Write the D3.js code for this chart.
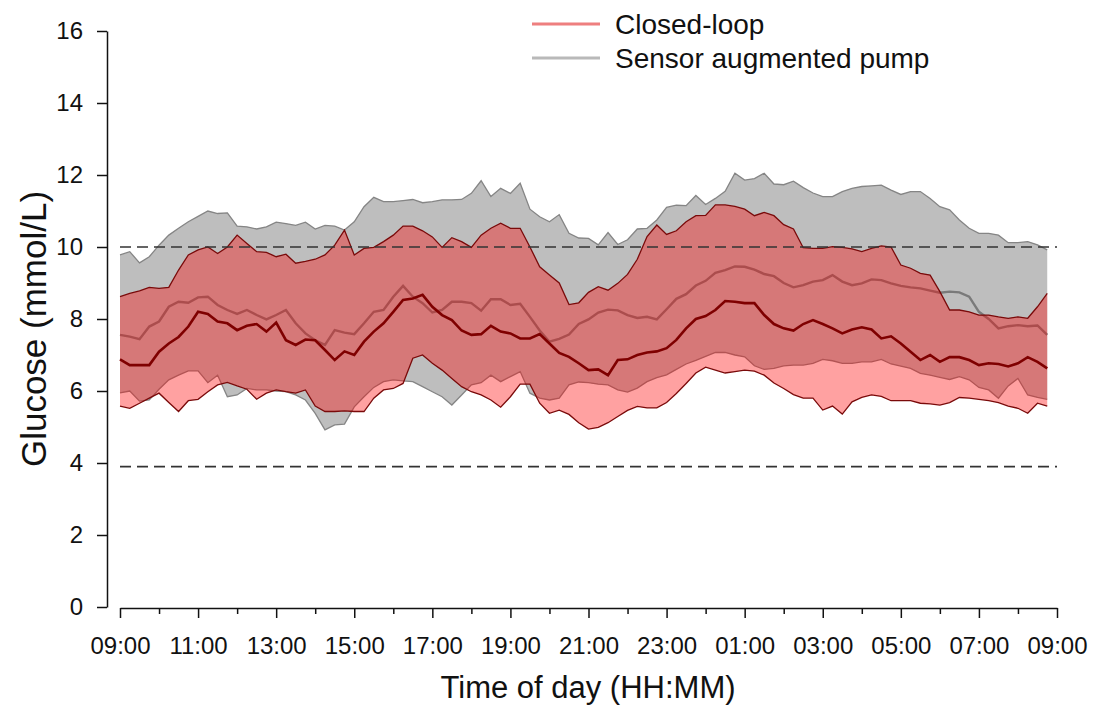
<!DOCTYPE html>
<html><head><meta charset="utf-8">
<script src="https://cdn.jsdelivr.net/npm/d3@7"></script>
<style>
body{margin:0;background:#fff;}
svg{display:block;font-family:"Liberation Sans",Arial,Helvetica,sans-serif;}
</style>
</head><body>
<svg id="c" width="1102" height="708"></svg>
<script>
// 15-minute samples from 09:00 to 08:45 next day (96 points)
const clMedian = [
6.88,6.72,6.72,6.72,7.09,7.32,7.5,7.79,8.2,8.14,
7.93,7.88,7.69,7.81,7.86,7.65,7.9,7.41,7.28,7.43,
7.41,7.14,6.86,7.1,7.0,7.37,7.65,7.88,8.2,8.53,
8.57,8.67,8.34,8.11,7.97,7.68,7.56,7.58,7.81,7.65,
7.6,7.46,7.46,7.58,7.32,7.06,6.95,6.77,6.58,6.6,
6.44,6.86,6.88,7.0,7.07,7.1,7.19,7.42,7.74,8.0,
8.08,8.25,8.5,8.48,8.44,8.44,8.11,7.86,7.74,7.68,
7.86,7.97,7.86,7.74,7.6,7.71,7.77,7.71,7.46,7.52,
7.32,7.09,6.86,7.0,6.81,6.94,6.94,6.86,6.72,6.77,
6.75,6.68,6.77,6.94,6.81,6.63];
const clUpper = [
8.62,8.71,8.78,8.88,8.85,8.88,9.36,9.78,9.92,10.0,
9.82,10.0,10.33,10.1,9.87,9.85,9.73,9.8,9.55,9.6,
9.66,9.78,10.05,10.47,9.78,9.96,9.99,10.15,10.33,10.58,
10.58,10.45,10.28,9.99,10.26,10.15,9.99,10.33,10.52,10.66,
10.52,10.52,10.0,9.45,9.22,9.0,8.4,8.45,8.74,8.9,
8.8,8.99,9.24,9.66,10.29,10.61,10.35,10.45,10.7,10.87,
10.88,11.17,11.17,11.13,11.05,10.87,10.96,10.87,10.62,10.5,
9.98,9.96,9.96,10.01,9.99,9.95,9.87,9.96,10.03,10.0,
9.5,9.41,9.27,9.22,8.76,8.25,8.25,8.2,8.11,8.11,
8.06,8.02,8.06,8.02,8.34,8.71];
const clLower = [
5.58,5.52,5.66,5.8,5.94,5.68,5.43,5.73,5.77,5.98,
6.17,6.24,6.14,6.05,5.77,5.94,6.03,5.98,5.94,6.03,
5.58,5.43,5.43,5.45,5.43,5.43,5.8,6.03,6.07,6.21,
6.91,7.0,6.77,6.58,6.35,6.12,5.98,5.89,5.75,5.55,
5.84,6.19,6.19,5.66,5.38,5.47,5.35,5.12,4.94,4.99,
5.12,5.29,5.46,5.57,5.53,5.53,5.68,5.93,6.21,6.5,
6.66,6.58,6.5,6.54,6.58,6.55,6.44,6.22,6.07,5.9,
5.8,5.8,5.47,5.58,5.36,5.7,5.82,5.89,5.85,5.73,
5.73,5.73,5.66,5.64,5.61,5.68,5.82,5.8,5.77,5.73,
5.68,5.58,5.52,5.38,5.66,5.58];
const sapMedian = [
7.56,7.51,7.44,7.79,7.93,8.34,8.48,8.45,8.6,8.62,
8.39,8.25,8.14,8.25,8.11,7.99,8.11,8.25,7.88,7.6,
7.41,7.28,7.69,7.62,7.58,7.88,8.2,8.25,8.62,8.92,
8.62,8.44,8.18,8.25,8.48,8.48,8.44,8.23,8.55,8.55,
8.39,8.42,8.06,7.68,7.37,7.45,7.57,7.86,7.99,8.18,
8.26,8.24,8.11,8.03,8.06,7.99,8.27,8.56,8.69,8.93,
9.06,9.28,9.36,9.46,9.45,9.37,9.25,9.19,9.0,8.88,
8.94,9.04,9.08,9.22,9.04,8.94,8.99,9.1,9.08,8.99,
8.92,8.88,8.85,8.79,8.73,8.76,8.74,8.62,8.2,8.0,
7.74,7.8,7.83,7.8,7.82,7.56];
const sapUpper = [
9.78,9.87,9.56,9.73,10.05,10.33,10.52,10.7,10.85,11.0,
10.93,10.95,10.58,10.56,10.5,10.56,10.69,10.65,10.6,10.69,
10.5,10.6,10.58,10.47,10.7,11.12,11.38,11.26,11.26,11.29,
11.32,11.23,11.26,11.31,11.31,11.32,11.49,11.84,11.4,11.63,
11.49,11.77,11.05,10.84,10.7,10.9,10.38,10.25,10.24,10.06,
10.4,10.07,10.2,10.5,10.52,10.75,11.1,11.16,11.15,11.43,
11.18,11.35,11.55,12.05,11.86,11.9,12.05,11.75,11.73,11.83,
11.65,11.5,11.4,11.4,11.54,11.63,11.68,11.7,11.72,11.58,
11.46,11.54,11.54,11.35,11.12,11.03,10.75,10.52,10.38,10.38,
10.33,10.12,10.12,10.15,10.06,9.92];
const sapLower = [
5.95,6.0,5.72,5.75,6.05,6.31,6.44,6.56,6.56,6.23,
6.44,5.84,5.89,6.07,6.03,6.03,6.0,5.98,5.89,5.75,
5.38,4.92,5.06,5.08,5.56,5.84,6.1,6.26,6.31,6.28,
6.26,6.12,5.98,5.84,5.61,5.89,6.17,6.23,6.44,6.26,
6.4,6.54,5.94,5.8,5.75,5.8,6.17,6.25,6.23,6.19,
6.17,6.03,5.97,6.08,6.26,6.37,6.45,6.6,6.75,6.85,
6.96,7.07,7.07,7.0,6.95,6.7,6.6,6.63,6.7,6.72,
6.72,6.77,6.88,6.84,6.77,6.77,6.81,6.81,6.88,6.75,
6.69,6.63,6.49,6.44,6.38,6.32,6.4,6.31,6.1,6.03,
5.8,6.14,6.35,5.89,5.82,5.77];

const xTickLabels = ["09:00","11:00","13:00","15:00","17:00","19:00","21:00","23:00","01:00","03:00","05:00","07:00","09:00"];
const yTicks = [0,2,4,6,8,10,12,14,16];
const refLines = [10, 3.9];
const legendItems = ["Closed-loop","Sensor augmented pump"];

const svg = d3.select("#c");
const x = d3.scaleLinear().domain([0, 24]).range([120, 1057]);
const y = d3.scaleLinear().domain([0, 16]).range([607, 31]);
const hr = i => i * 0.25;

const idx = d3.range(clMedian.length);

const area = (lo, hi) => d3.area().x(i => x(hr(i))).y0(i => y(lo[i])).y1(i => y(hi[i]));
const line = arr => d3.line().x(i => x(hr(i))).y(i => y(arr[i]));

// SAP band
svg.append("path").datum(idx).attr("d", area(sapLower, sapUpper))
  .attr("fill", "#bebebe");
[sapUpper, sapLower].forEach(a => svg.append("path").datum(idx).attr("d", line(a))
  .attr("fill", "none").attr("stroke", "#858585").attr("stroke-width", 1.3));
svg.append("path").datum(idx).attr("d", line(sapMedian))
  .attr("fill", "none").attr("stroke", "#7a7a7a").attr("stroke-width", 2.4);

// CL band
svg.append("path").datum(idx).attr("d", area(clLower, clUpper))
  .attr("fill", "rgba(255,0,0,0.37)");
[clUpper, clLower].forEach(a => svg.append("path").datum(idx).attr("d", line(a))
  .attr("fill", "none").attr("stroke", "#7a0a0a").attr("stroke-width", 1.3));
svg.append("path").datum(idx).attr("d", line(clMedian))
  .attr("fill", "none").attr("stroke", "#7f0000").attr("stroke-width", 2.6);

// reference lines
svg.selectAll(".ref").data(refLines).enter().append("line")
  .attr("x1", x(0)).attr("x2", x(24)).attr("y1", d => y(d)).attr("y2", d => y(d))
  .attr("stroke", "#333").attr("stroke-width", 1.6).attr("stroke-dasharray", "11,6");

// y axis
const gy = svg.append("g").attr("transform", "translate(107,0)")
  .call(d3.axisLeft(y).tickValues(yTicks).tickSize(10).tickSizeOuter(0).tickPadding(14).tickFormat(d3.format("d")));
gy.select(".domain").attr("stroke", "#111").attr("stroke-width", 1.5);
gy.selectAll(".tick line").attr("stroke", "#111").attr("stroke-width", 1.5);
gy.selectAll("text").attr("font-size", 24).attr("fill", "#111").attr("font-family", null);

// x axis: minor hourly ticks
const gxm = svg.append("g").attr("transform", "translate(0,608)")
  .call(d3.axisBottom(x).tickValues(d3.range(1, 24, 2)).tickSize(6).tickSizeOuter(0).tickFormat(""));
gxm.select(".domain").remove();
gxm.selectAll(".tick line").attr("stroke", "#111").attr("stroke-width", 1.5);
// major
const gx = svg.append("g").attr("transform", "translate(0,608)")
  .call(d3.axisBottom(x).tickValues(d3.range(0, 25, 2)).tickSize(10).tickSizeOuter(0).tickPadding(19)
    .tickFormat((d, i) => xTickLabels[i]));
gx.select(".domain").attr("stroke", "#111").attr("stroke-width", 1.5);
gx.selectAll(".tick line").attr("stroke", "#111").attr("stroke-width", 1.5);
gx.selectAll("text").attr("font-size", 24).attr("fill", "#111").attr("font-family", null);

// axis titles
svg.append("text").attr("x", 588).attr("y", 698).attr("text-anchor", "middle")
  .attr("font-size", 31).attr("fill", "#111").text("Time of day (HH:MM)");
svg.append("text").attr("transform", "translate(46,329) rotate(-90)").attr("text-anchor", "middle")
  .attr("font-size", 35).attr("fill", "#111").text("Glucose (mmol/L)");

// legend
const legColors = ["#ee7f7f", "#b9b9b9"];
const leg = svg.append("g");
legendItems.forEach((t, i) => {
  const yy = 24 + i * 34;
  leg.append("line").attr("x1", 532).attr("x2", 600).attr("y1", yy).attr("y2", yy)
    .attr("stroke", legColors[i]).attr("stroke-width", 3);
  leg.append("text").attr("x", 615).attr("y", yy + 10).attr("font-size", 28).attr("fill", "#111").text(t);
});
</script>
</body></html>
